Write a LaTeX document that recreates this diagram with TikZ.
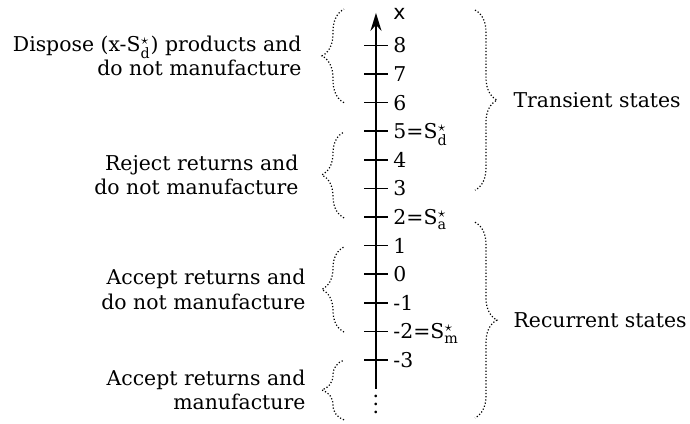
\documentclass[tikz,border=0pt]{standalone}
\usepackage{amsmath}
\usepackage{fontspec}
\setmainfont{DejaVu Serif}
\newfontfamily\axisfont{DejaVu Sans}
\usepackage{tikz}
\usetikzlibrary{decorations.pathreplacing}
\usetikzlibrary{arrows.meta}

\begin{document}
\begin{tikzpicture}[y=14.3pt, font=\fontsize{10.2}{12.2}\selectfont,
statebrace/.style={decorate, decoration={brace, amplitude=11pt}, densely dotted, line width=0.6pt},
tickline/.style={line width=0.8pt},
ticklabel/.style={anchor=west, inner sep=0pt, text height=7.45pt, text depth=0pt},
sidetext/.style={align=right, inner sep=0pt}]


\useasboundingbox (-6.607,-5.20) rectangle (5.518,9.59);


\coordinate (axisbottom) at (0,-4.01);
\coordinate (axistop) at (0,9.14);

\draw[line width=1.1pt, -{Stealth[length=9pt,width=5.5pt]}] (axisbottom) -- (axistop);

\node[ticklabel] (xlabel) at (0.30,9.17) {\axisfont x};



\foreach \y/\txt [count=\i] in {8/8,7/7,6/6,5/{5=S$^\star_\mathrm{d}$},4/4,3/3,2/{2=S$^\star_\mathrm{a}$},1/1,0/0,-1/-1,-2/{-2=S$^\star_\mathrm{m}$},-3/-3}
{
\draw[tickline] (-0.21,\y) -- (0.21,\y);
\node[ticklabel] (state\i) at (0.30,\y) {\txt};
}

\node[anchor=south, inner sep=0pt] (moredots) at (0,-4.88) {$\vdots$};



\draw[statebrace] (-0.562,6.0) -- (-0.562,9.27)
node[midway, left=21pt, sidetext] (dispose) {Dispose (x-S$^\star_\mathrm{d}$) products and\\do not manufacture};

\draw[statebrace] (-0.562,1.97) -- (-0.562,4.98)
node[midway, left=22.5pt, sidetext] (reject) {Reject returns and\\do not manufacture};

\draw[statebrace] (-0.562,-2.02) -- (-0.562,0.96)
node[midway, left=19pt, sidetext] (acceptidle) {Accept returns and\\do not manufacture};

\draw[statebrace] (-0.562,-5.09) -- (-0.562,-3.0)
node[midway, left=19pt, sidetext] (acceptmake) {Accept returns and\\manufacture};


\draw[statebrace] (1.740,9.24) -- (1.740,2.94)
node[midway, right=19pt, sidetext] (transient) {Transient states};

\draw[statebrace] (1.740,1.82) -- (1.740,-5.02)
node[midway, right=19pt, sidetext] (recurrent) {Recurrent states};

\end{tikzpicture}
\end{document}
